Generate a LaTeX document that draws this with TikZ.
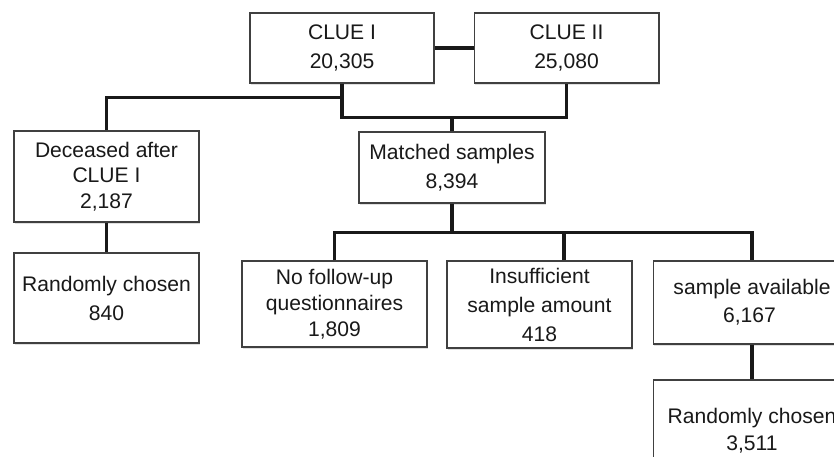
\documentclass[tikz,border=0pt]{standalone}
\usepackage{fontspec}
\setmainfont{Liberation Sans}
\usetikzlibrary{shadows}

\begin{document}
\begin{tikzpicture}[x=0.02cm,y=-0.02cm,
	box/.style={draw=black!75, line width=0.6pt, fill=white, inner sep=0pt, align=center,
		text=black!90, font=\fontsize{12}{16.5}\selectfont,
		drop shadow={shadow xshift=0.6pt, shadow yshift=-1.1pt, fill=black!12, opacity=1}},
	feed/.style={line width=1.8pt, black!90}]
	\useasboundingbox (0,0) rectangle (834,456);
	\node[box, minimum width=3.68cm, minimum height=1.4cm] (clueone) at (342,48) {CLUE I\\20,305};
	\node[box, minimum width=3.7cm, minimum height=1.4cm] (cluetwo) at (566.5,48) {CLUE II\\25,080};
	\node[box, minimum width=3.7cm, minimum height=1.82cm, font=\fontsize{12}{14.5}\selectfont] (deceased) at (106.5,176.5) {Deceased after\\CLUE I\\2,187};
	\node[box, minimum width=3.7cm, minimum height=1.8cm] (randomone) at (106.5,298) {Randomly chosen\\840};
	\node[box, minimum width=3.72cm, minimum height=1.42cm] (matched) at (452,167.5) {Matched samples\\8,394};
	\node[box, minimum width=3.7cm, minimum height=1.72cm, font=\fontsize{12}{14.8}\selectfont] (nofollow) at (334.5,304) {No follow-up\\questionnaires\\1,809};
	\node[box, minimum width=3.7cm, minimum height=1.74cm] (insufficient) at (539.5,304.5) {Insufficient\\sample amount\\418};
	\node[box, minimum width=3.96cm, minimum height=1.66cm, font=\fontsize{12}{16}\selectfont] (available) at (752,302.5) {sample available\\6,167\hspace*{0.1cm}};
	\node[box, minimum width=3.96cm, minimum height=2.04cm, font=\fontsize{12}{15.5}\selectfont] (randomtwo) at (752,431) {Randomly chosen\\3,511};
	% upper level
	\draw[feed] (clueone.east) -- (cluetwo.west);
	\draw[feed] (clueone.south) -- ++(0,14) -| (deceased.north);
	\draw[feed] (clueone.south) -- ++(0,34) coordinate (merge) -| (cluetwo.south);
	\draw[feed] (matched.north) -- (matched.north |- merge);
	\draw[feed] (deceased.south) -- (randomone.north);
	% lower level
	\draw[feed] (matched.south) -- ++(0,29) coordinate (split);
	\draw[feed] (nofollow.north) |- (split) -| (available.north);
	\draw[feed] ([xshift=0.49cm]insufficient.north) |- (split);
	\draw[feed] (available.south) -- (randomtwo.north);
\end{tikzpicture}
\end{document}
